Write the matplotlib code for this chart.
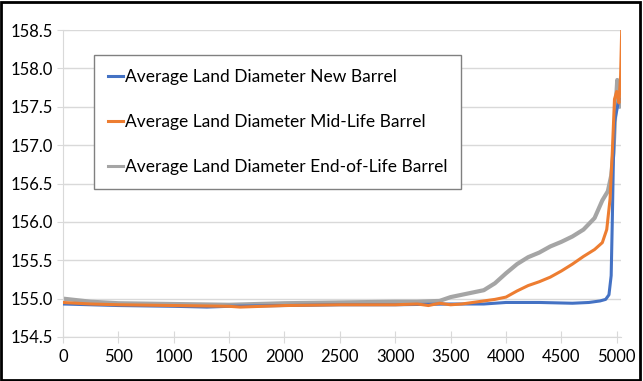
import numpy as np
import matplotlib.pyplot as plt
from matplotlib.patches import Rectangle

# Datos
x_nuevo = [0, 250, 500, 1000, 1300, 1500, 2000, 2500, 3000, 3500, 3800, 4000, 4300, 4600,
           4750, 4850, 4900, 4930, 4950, 4960, 4970, 4980, 5000, 5020]
y_nuevo = [154.93, 154.92, 154.91, 154.90, 154.89, 154.90, 154.91, 154.92, 154.92, 154.93,
           154.93, 154.95, 154.95, 154.94, 154.95, 154.97, 154.99, 155.05, 155.30, 156.00,
           156.80, 157.30, 157.45, 157.60]

x_medio = [0, 250, 500, 1000, 1500, 1600, 2000, 2500, 3000, 3200, 3300, 3400, 3500, 3600,
           3700, 3800, 3900, 4000, 4100, 4200, 4300, 4400, 4500, 4600, 4700, 4800, 4870,
           4910, 4940, 4960, 4980, 5000, 5020, 5035, 5045]
y_medio = [154.95, 154.93, 154.92, 154.91, 154.90, 154.89, 154.91, 154.92, 154.92, 154.93,
           154.91, 154.94, 154.92, 154.93, 154.95, 154.97, 154.99, 155.02, 155.10, 155.17,
           155.22, 155.28, 155.36, 155.45, 155.55, 155.64, 155.73, 155.90, 156.30, 156.90,
           157.60, 157.70, 157.55, 157.90, 158.50]

x_final = [0, 250, 500, 1000, 1500, 2000, 2500, 3000, 3200, 3400, 3500, 3600, 3700, 3800,
           3900, 4000, 4100, 4200, 4300, 4400, 4500, 4600, 4700, 4800, 4870, 4920, 4950,
           4970, 4990, 5005, 5015, 5025, 5035]
y_final = [155.00, 154.96, 154.94, 154.93, 154.92, 154.94, 154.95, 154.96, 154.96, 154.97,
           155.02, 155.05, 155.08, 155.11, 155.20, 155.33, 155.45, 155.54, 155.60, 155.68,
           155.74, 155.81, 155.90, 156.05, 156.28, 156.40, 156.60, 156.90, 157.50, 157.85,
           157.75, 157.50, 157.60]

etiquetas = ['Average Land Diameter New Barrel',
             'Average Land Diameter Mid-Life Barrel',
             'Average Land Diameter End-of-Life Barrel']

plt.rcParams['font.family'] = ['Lato', 'DejaVu Sans']

fig = plt.figure(figsize=(6.43, 3.81), dpi=100)
ax = fig.add_axes([0.098, 0.1155, 0.868, 0.8055])

ax.plot(x_nuevo, y_nuevo, color='#4472C4', lw=2.2, label=etiquetas[0], zorder=3)
ax.plot(x_medio, y_medio, color='#ED7D31', lw=2.2, label=etiquetas[1], zorder=3)
ax.plot(x_final, y_final, color='#A5A5A5', lw=3.0, label=etiquetas[2], zorder=2)

ax.set_xlim(0, 5040)
ax.set_ylim(154.5, 158.5)
ax.set_xticks(np.arange(0, 5001, 500))
ax.set_yticks(np.arange(154.5, 158.51, 0.5))
ax.yaxis.set_major_formatter(plt.FuncFormatter(lambda v, p: f'{v:.1f}'))
ax.grid(axis='y', color='#D9D9D9', lw=1)
ax.set_axisbelow(True)

for lado in ['top', 'right']:
    ax.spines[lado].set_visible(False)
for lado in ['bottom', 'left']:
    ax.spines[lado].set_color('#D9D9D9')
ax.tick_params(axis='x', direction='inout', length=8, color='#D9D9D9',
               labelsize=12, labelcolor='black', pad=5)
ax.tick_params(axis='y', direction='inout', length=8, color='#D9D9D9',
               labelsize=12, labelcolor='black', pad=3)

leg = ax.legend(loc='upper left', bbox_to_anchor=(0.056, 0.919), fontsize=12.5,
                fancybox=False, edgecolor='#808080', framealpha=1,
                handlelength=0.86, handletextpad=0.1, labelspacing=1.67,
                borderpad=0.8, borderaxespad=0)
leg.get_frame().set_linewidth(1.0)
for linea in leg.get_lines():
    linea.set_linewidth(2.2)

# Marco exterior negro
fig.patches.append(Rectangle((0.002, 0.002), 0.994, 0.993, transform=fig.transFigure,
                             fill=False, edgecolor='black', lw=2))

fig.savefig('out.png', dpi=100)
